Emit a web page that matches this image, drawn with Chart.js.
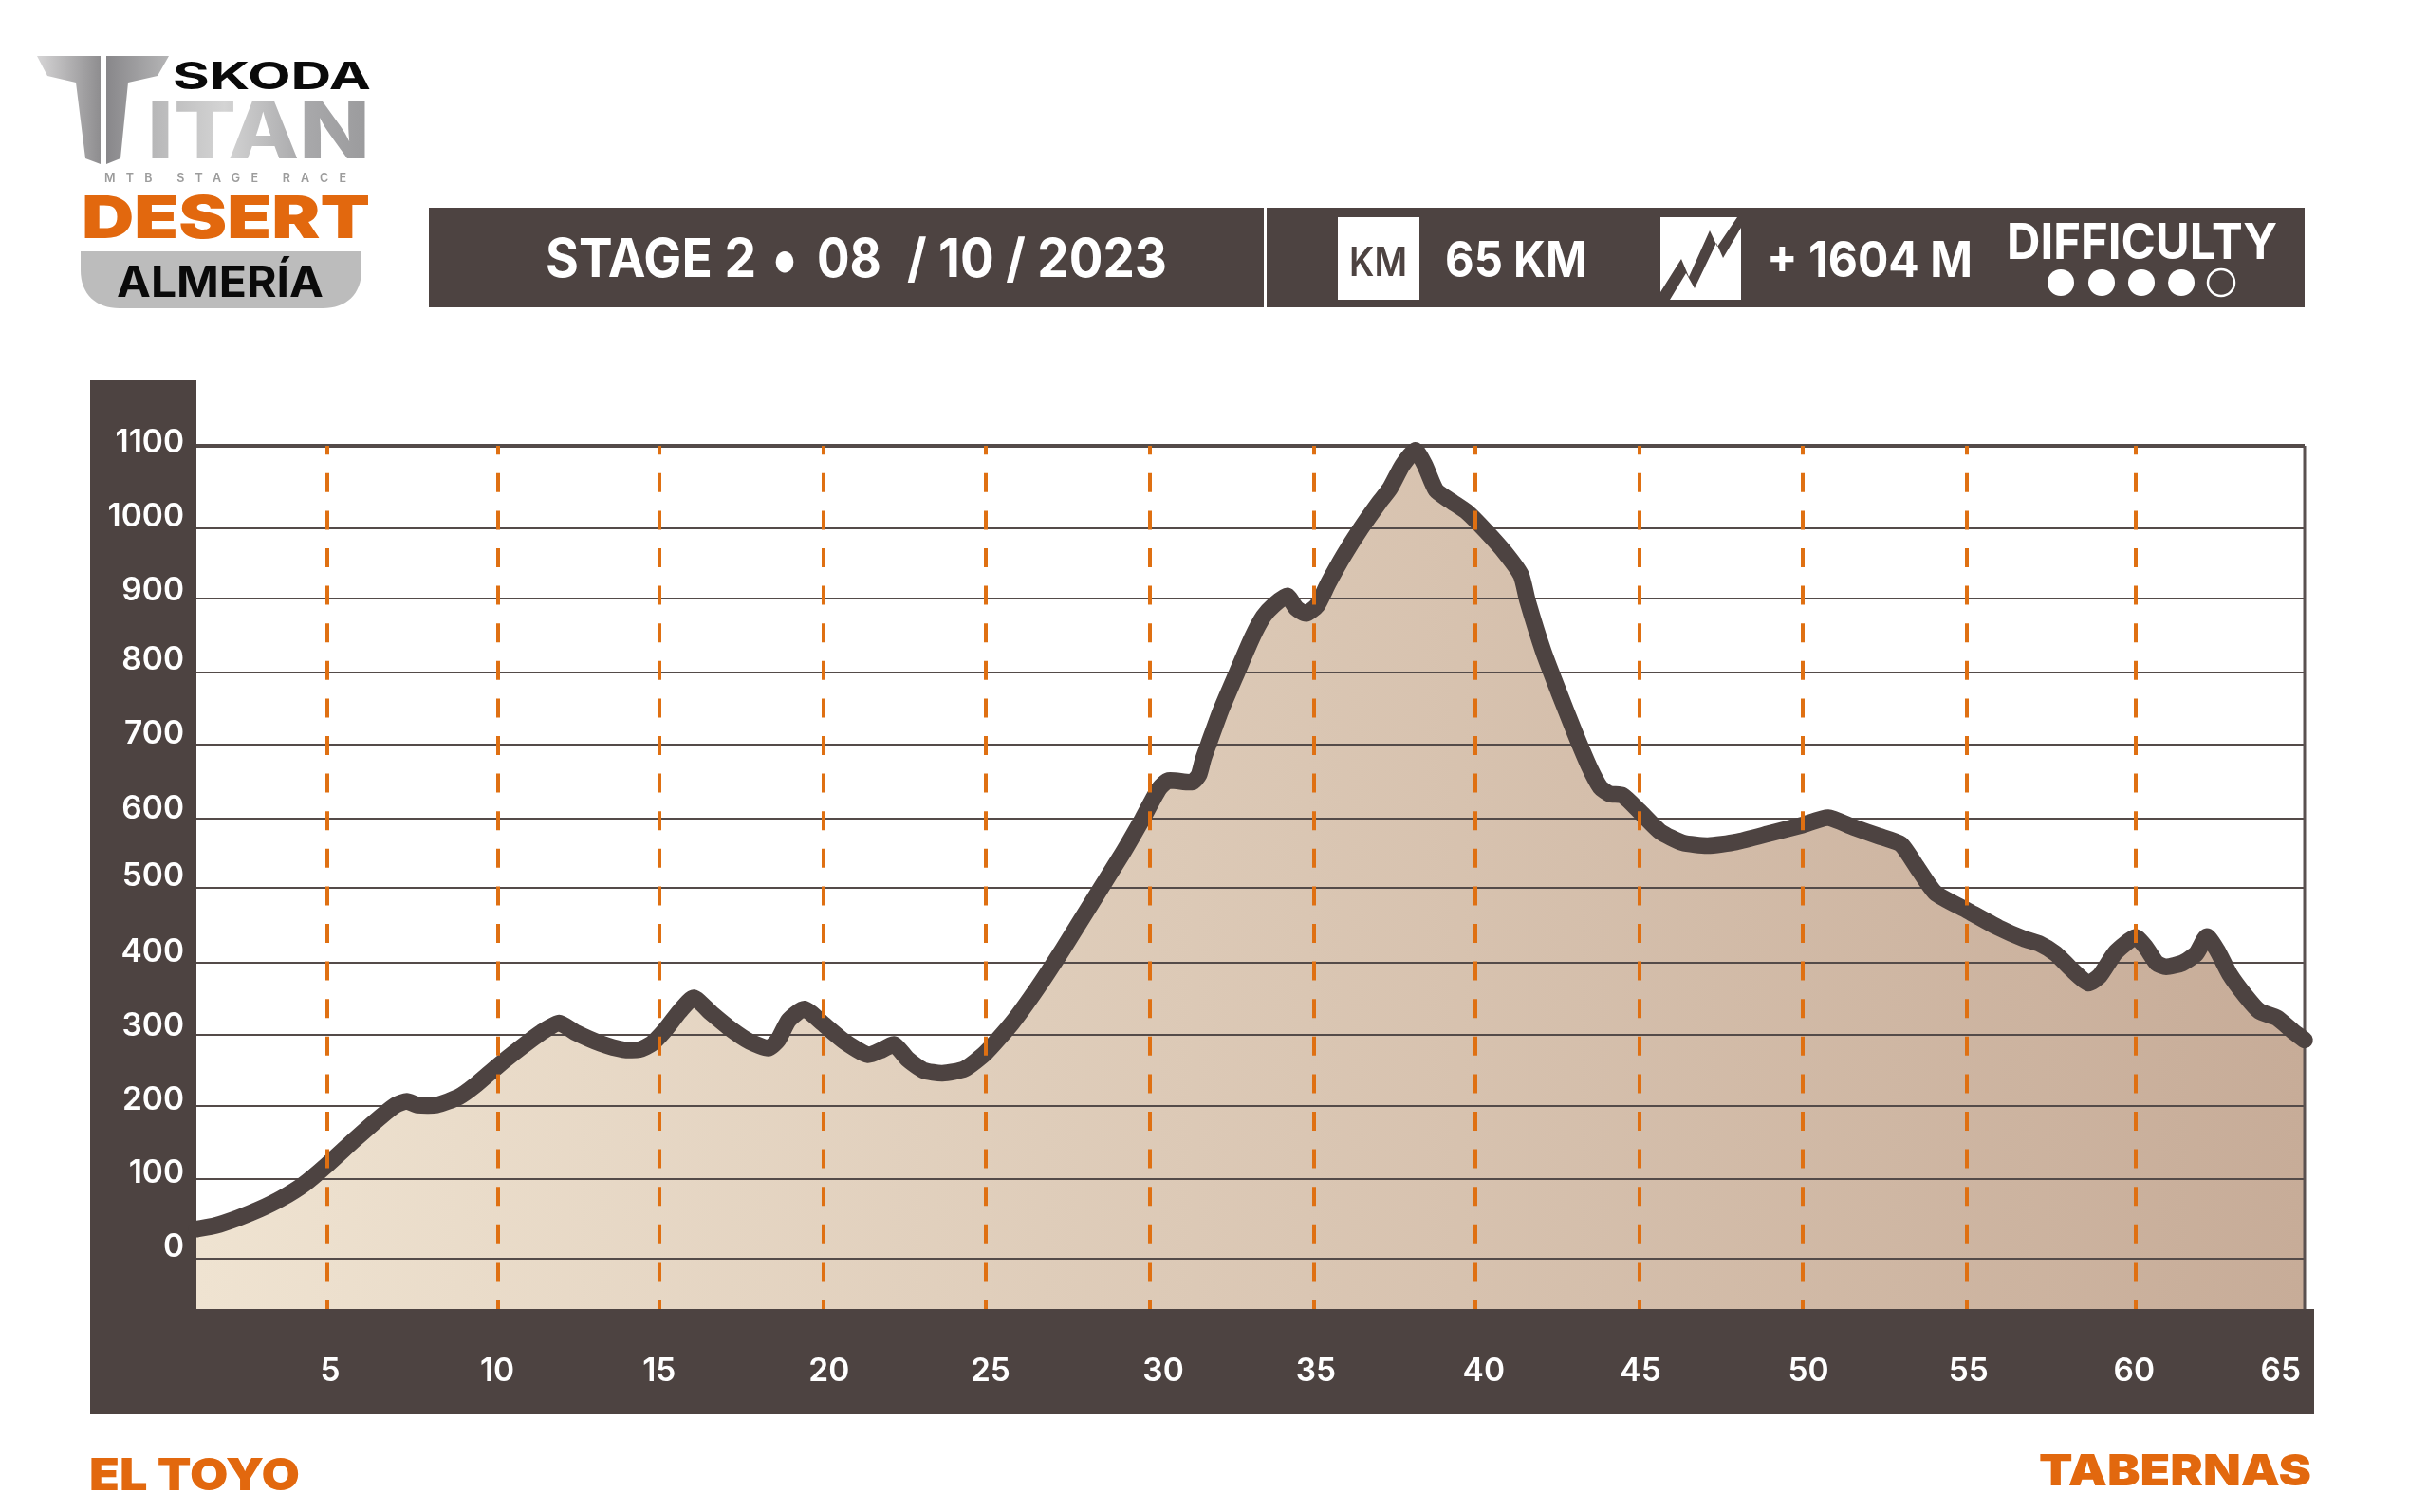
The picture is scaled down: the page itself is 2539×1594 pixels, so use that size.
<!DOCTYPE html>
<html>
<head>
<meta charset="utf-8">
<title>Stage 2 profile</title>
<script src="https://cdn.jsdelivr.net/npm/chart.js@4/dist/chart.umd.min.js"></script>
<style>
html,body{margin:0;padding:0;background:#fff;}
#wrap{position:relative;width:2539px;height:1594px;overflow:hidden;}
canvas{position:absolute;left:0;top:0;}
svg{position:absolute;left:0;top:0;pointer-events:none;font-family:Inter,sans-serif;}
</style>
</head>
<body>
<div id="wrap">
<canvas id="c" width="2539" height="1594"></canvas>
<svg width="2539" height="1594" viewBox="0 0 2539 1594" xmlns="http://www.w3.org/2000/svg">
  <defs>
    <linearGradient id="tL" x1="0" x2="1" y1="0" y2="0"><stop offset="0" stop-color="#d6d5d6"/><stop offset="1" stop-color="#8e8d8f"/></linearGradient>
    <linearGradient id="tR" x1="0" x2="1" y1="0" y2="0"><stop offset="0" stop-color="#88878a"/><stop offset="1" stop-color="#b5b5b6"/></linearGradient>
    <linearGradient id="tI" gradientUnits="userSpaceOnUse" x1="155" x2="388" y1="0" y2="0"><stop offset="0" stop-color="#b5b5b6"/><stop offset=".35" stop-color="#d4d4d4"/><stop offset=".7" stop-color="#a9a9ab"/><stop offset="1" stop-color="#9b9b9d"/></linearGradient>
  </defs>
  <polygon fill="url(#tL)" points="39,59 106,59 106,173 90,167 80,87 50,80"/>
  <polygon fill="url(#tR)" points="112,59 178,59 166,80 135,87 127,167 112,173"/>
  <text x="182" y="94" font-size="40" font-weight="700" fill="#0a0a0a" textLength="209" lengthAdjust="spacingAndGlyphs">SKODA</text>
  <text x="155" y="167" font-size="84" font-weight="800" fill="url(#tI)" textLength="235" lengthAdjust="spacingAndGlyphs">ITAN</text>
  <text x="110" y="192" font-size="12.5" font-weight="600" fill="#9c9c9c" textLength="255" lengthAdjust="spacing">MTB STAGE RACE</text>
  <text x="86" y="251" font-size="62" font-weight="900" fill="#e2680e" textLength="304" lengthAdjust="spacingAndGlyphs">DESERT</text>
  <path d="M85 265H381V285C381 310 365 325 340 325H126C101 325 85 310 85 285Z" fill="#bcbcbc"/>
  <text x="123" y="313" font-size="45" font-weight="700" fill="#0a0a0a" textLength="218" lengthAdjust="spacingAndGlyphs">ALMERÍA</text>

  <rect x="452" y="219" width="1977" height="105" fill="#4d4341"/>
  <rect x="1332" y="219" width="3" height="105" fill="#fff"/>
  <text x="575" y="292" font-size="56" font-weight="700" fill="#fff" textLength="222" lengthAdjust="spacingAndGlyphs">STAGE 2</text>
  <text x="813" y="297" font-size="72" font-weight="700" fill="#fff" textLength="28" lengthAdjust="spacingAndGlyphs">•</text>
  <text x="861" y="292" font-size="56" font-weight="700" fill="#fff" textLength="68" lengthAdjust="spacingAndGlyphs">08</text>
  <text x="956" y="292" font-size="56" font-weight="700" fill="#fff" textLength="274" lengthAdjust="spacingAndGlyphs">/ 10 / 2023</text>
  <rect x="1410" y="229" width="86" height="87" fill="#fff"/>
  <text x="1422" y="291" font-size="43" font-weight="600" fill="#4d4341" textLength="61" lengthAdjust="spacingAndGlyphs">KM</text>
  <text x="1523" y="292" font-size="52" font-weight="700" fill="#fff" textLength="150" lengthAdjust="spacingAndGlyphs">65 KM</text>
  <rect x="1750" y="229" width="85" height="87" fill="#fff"/>
  <polygon fill="#4d4341" points="1750,308 1772,273 1780,292 1802,243 1810,260 1831,229 1835,229 1835,240 1816,272 1809,256 1786,304 1777,288 1760,316 1750,316"/>
  <text x="1862" y="292" font-size="52" font-weight="700" fill="#fff" textLength="217" lengthAdjust="spacingAndGlyphs">+ 1604 M</text>
  <text x="2115" y="273" font-size="52" font-weight="700" fill="#fff" textLength="285" lengthAdjust="spacingAndGlyphs">DIFFICULTY</text>
  <circle cx="2172" cy="298" r="14" fill="#fff"/>
  <circle cx="2215" cy="298" r="14" fill="#fff"/>
  <circle cx="2257" cy="298" r="14" fill="#fff"/>
  <circle cx="2299" cy="298" r="14" fill="#fff"/>
  <circle cx="2341" cy="298" r="14" fill="none" stroke="#fff" stroke-width="2.5"/>

  <text x="94" y="1571" font-size="47" font-weight="900" fill="#e2680e" textLength="222" lengthAdjust="spacingAndGlyphs">EL TOYO</text>
  <text x="2149" y="1566" font-size="45" font-weight="900" fill="#e2680e" textLength="287" lengthAdjust="spacingAndGlyphs">TABERNAS</text>
</svg>
</div>
<script>
// Distance along the stage (km) and elevation (m)
const distanceKm = [1.0,1.58,2.26,2.93,3.61,4.29,4.99,5.83,6.6,7.09,7.43,7.76,8.34,9.02,9.5,10.21,10.95,11.53,12.08,12.59,13.37,14.04,14.53,14.91,15.29,15.77,16.19,16.74,17.32,17.9,18.48,18.77,19.1,19.57,20.12,20.8,21.52,21.96,22.32,22.73,23.21,23.79,24.47,25.12,25.92,26.69,27.46,28.33,29.3,29.9,30.41,30.7,31.42,31.63,31.76,31.92,32.29,32.79,33.26,33.6,33.93,34.32,34.61,34.9,35.24,35.58,36.06,36.59,37.13,37.46,37.85,38.24,38.53,38.87,39.3,39.83,40.41,40.99,41.47,41.67,42.15,42.63,43.12,43.55,43.89,44.18,44.57,45.08,45.72,46.4,47.17,48.04,49.11,50.07,50.85,51.62,52.39,53.07,53.55,54.13,55.11,56.06,56.83,57.32,57.8,58.28,58.8,59.15,59.64,60.24,60.55,60.89,61.18,61.67,62.1,62.42,62.73,63.12,63.6,64.03,64.56,65.05,65.41];
const elevationM = [40,45,55,67,82,101,127,161,191,208,213,208,208,219,234,261,287,306,319,306,291,283,283,291,308,335,353,332,311,294,285,296,323,338,319,294,276,283,290,270,255,251,257,279,319,366,418,480,549,595,636,647,645,655,676,696,741,793,841,869,885,897,880,873,884,914,952,989,1023,1042,1074,1094,1074,1040,1026,1010,984,955,925,890,822,766,711,666,638,629,627,606,578,563,559,564,576,587,597,584,572,561,531,495,471,448,433,426,413,392,373,383,415,435,422,400,395,400,413,436,418,385,356,335,326,308,296];

// Axis extents and where the grid lines and tick labels sit on them
const xMin = 1.0, xMax = 65.41, yMin = -68, yMax = 1100;
const xGridKm = [5.0,10.21,15.14,20.15,25.12,30.13,35.14,40.07,45.08,50.09,55.1,60.24];
const xLabelKm = [5.09,10.19,15.14,20.33,25.26,30.54,35.2,40.33,45.12,50.25,55.14,60.2,64.68];
const xTickLabels = ['5','10','15','20','25','30','35','40','45','50','55','60','65'];
const yGridM = [0,108,207,303,400,502,596,696,793,893,988,1100];
const yLabelM = [16,116,214,314,415,517,609,710,810,904,1004,1104];
const yTickLabels = ['0','100','200','300','400','500','600','700','800','900','1000','1100'];

const DARK = '#4d4341', ORANGE = '#df7012', GRID = '#544b49';
const tickFont = {family:'Inter', size:33.5, weight:'600'};

const panels = {
  id:'panels',
  beforeDraw(chart){
    const {ctx, chartArea:a} = chart;
    ctx.save();
    ctx.fillStyle = DARK;
    ctx.fillRect(a.left-112, a.top-69, 112, a.bottom-a.top+69);
    ctx.fillRect(a.left-112, a.bottom, a.right-a.left+122, 111);
    ctx.restore();
  },
  beforeDatasetsDraw(chart){
    const {ctx, chartArea:a} = chart;
    ctx.save();
    ctx.strokeStyle = '#5a5150';
    ctx.lineWidth = 3;
    ctx.beginPath();
    ctx.moveTo(a.right, a.top);
    ctx.lineTo(a.right, a.bottom);
    ctx.stroke();
    ctx.restore();
  }
};

new Chart(document.getElementById('c'), {
  type:'line',
  data:{datasets:[{
    data: distanceKm.map((x,i)=>({x, y:elevationM[i]})),
    xAxisID:'x', yAxisID:'y',
    borderColor:DARK, borderWidth:17.5, borderCapStyle:'round', borderJoinStyle:'round',
    tension:0.2, pointRadius:0, clip:false,
    fill:'start',
    backgroundColor(c){
      const a = c.chart.chartArea;
      if(!a) return '#dcc8b4';
      const g = c.chart.ctx.createLinearGradient(a.left,0,a.right,0);
      g.addColorStop(0,'#efe3d1');
      g.addColorStop(1,'#c7ac98');
      return g;
    }
  }]},
  options:{
    responsive:false, animation:false, devicePixelRatio:1,
    layout:{padding:{top:470,right:110,bottom:0,left:0}},
    plugins:{legend:{display:false}, tooltip:{enabled:false}, title:{display:false}, filler:{drawTime:'beforeDraw'}},
    scales:{
      x:{type:'linear',position:'bottom',min:xMin,max:xMax,
        afterBuildTicks(s){s.ticks = xGridKm.map(value=>({value}));},
        afterFit(s){s.height=0;},
        ticks:{display:false,autoSkip:false},
        grid:{color:ORANGE,lineWidth:4,z:1,drawTicks:false},
        border:{display:false,dash:[20,19.6],dashOffset:10.8}},
      xLabels:{type:'linear',position:'bottom',min:xMin,max:xMax,
        afterBuildTicks(s){s.ticks = xLabelKm.map(value=>({value}));},
        afterFit(s){s.height=214;},
        ticks:{color:'#fff',font:tickFont,padding:46,autoSkip:false,maxRotation:0,callback:(v,i)=>xTickLabels[i]},
        grid:{display:false,drawTicks:false},border:{display:false}},
      y:{type:'linear',position:'left',min:yMin,max:yMax,
        afterBuildTicks(s){s.ticks = yGridM.map(value=>({value}));},
        afterFit(s){s.width=0;},
        ticks:{display:false,autoSkip:false},
        grid:{color:GRID,lineWidth:c=>c.index===yGridM.length-1?4:2,drawTicks:false},
        border:{display:false}},
      yLabels:{type:'linear',position:'left',min:yMin,max:yMax,
        afterBuildTicks(s){s.ticks = yLabelM.map(value=>({value}));},
        afterFit(s){s.width=207;},
        ticks:{color:'#fff',font:tickFont,padding:13,autoSkip:false,callback:(v,i)=>yTickLabels[i]},
        grid:{display:false,drawTicks:false},border:{display:false}}
    }
  },
  plugins:[panels]
});
</script>
</body>
</html>
